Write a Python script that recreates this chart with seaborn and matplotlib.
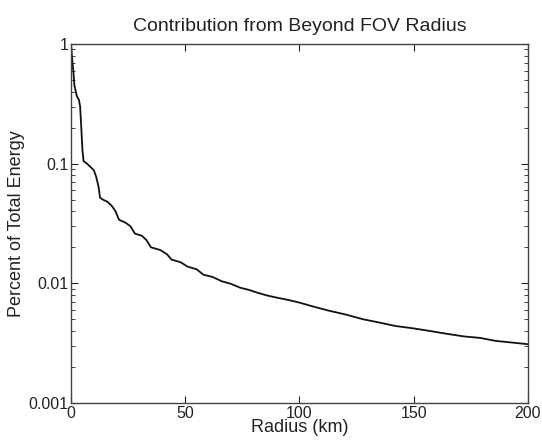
import matplotlib
matplotlib.use("Agg")
import matplotlib.pyplot as plt
import seaborn as sns
import pandas as pd
from matplotlib.ticker import FixedLocator, LogLocator, NullFormatter

radius_km = [0, 0.5, 1.0, 1.5, 2.5, 3.5, 4.0, 4.5, 5.0, 5.5, 7, 9, 10, 11, 12, 12.7, 14, 16, 18,
             19.5, 21, 24, 26, 28, 31, 33, 35, 39, 42, 44, 48, 51, 55, 58, 62, 66, 70, 74, 78,
             82, 86, 90, 96, 100, 106, 113, 120, 128, 135, 142, 150, 157, 164, 172, 179, 186,
             193, 200]
energy_fraction = [1.0, 0.75, 0.6, 0.45, 0.37, 0.34, 0.30, 0.2, 0.13, 0.105, 0.100, 0.092, 0.088,
                   0.078, 0.065, 0.052, 0.050, 0.048, 0.044, 0.040, 0.034, 0.032, 0.030, 0.026,
                   0.025, 0.023, 0.020, 0.019, 0.0175, 0.0158, 0.015, 0.0138, 0.0131, 0.0118,
                   0.0113, 0.0104, 0.0099, 0.0092, 0.0088, 0.0083, 0.0079, 0.0076, 0.0072, 0.0069,
                   0.0064, 0.0059, 0.0055, 0.0050, 0.0047, 0.0044, 0.0042, 0.0040, 0.0038, 0.0036,
                   0.0035, 0.0033, 0.0032, 0.0031]
x_ticks = [0, 50, 100, 150, 200]
y_ticks = [0.001, 0.01, 0.1, 1]
y_tick_labels = ["0.001", "0.01", "0.1", "1"]

sns.set_style("ticks")
plt.rcParams["font.family"] = ["Liberation Sans", "DejaVu Sans"]

df = pd.DataFrame({"radius": radius_km, "energy": energy_fraction})

fig = plt.figure(figsize=(5.42, 4.43), dpi=100)
ax = fig.add_axes([0.131, 0.0903, 0.843, 0.8104])
sns.lineplot(data=df, x="radius", y="energy", ax=ax, color="#111111", linewidth=1.3,
             sort=False)

ax.set_yscale("log")
ax.set_xlim(0, 200)
ax.set_ylim(0.001, 1)
ax.xaxis.set_major_locator(FixedLocator(x_ticks))
ax.yaxis.set_major_locator(FixedLocator(y_ticks))
ax.set_yticklabels(y_tick_labels)
ax.yaxis.set_minor_locator(LogLocator(base=10, subs=range(2, 10)))
ax.yaxis.set_minor_formatter(NullFormatter())

ax.tick_params(axis="both", which="both", direction="in", top=True, right=True,
               labelsize=11.5, colors="#222222", pad=2)
ax.tick_params(which="major", length=5, width=0.8)
ax.tick_params(which="minor", length=3, width=0.6)
for s in ax.spines.values():
    s.set_visible(True)
    s.set_linewidth(1.0)
    s.set_color("#444444")

ax.set_title("Contribution from Beyond FOV Radius", fontsize=14, pad=9, color="#222222")
ax.set_xlabel("Radius (km)", fontsize=13, labelpad=-1, color="#222222")
ax.set_ylabel("Percent of Total Energy", fontsize=13, labelpad=2, color="#222222")

fig.savefig("out.png", dpi=100)
